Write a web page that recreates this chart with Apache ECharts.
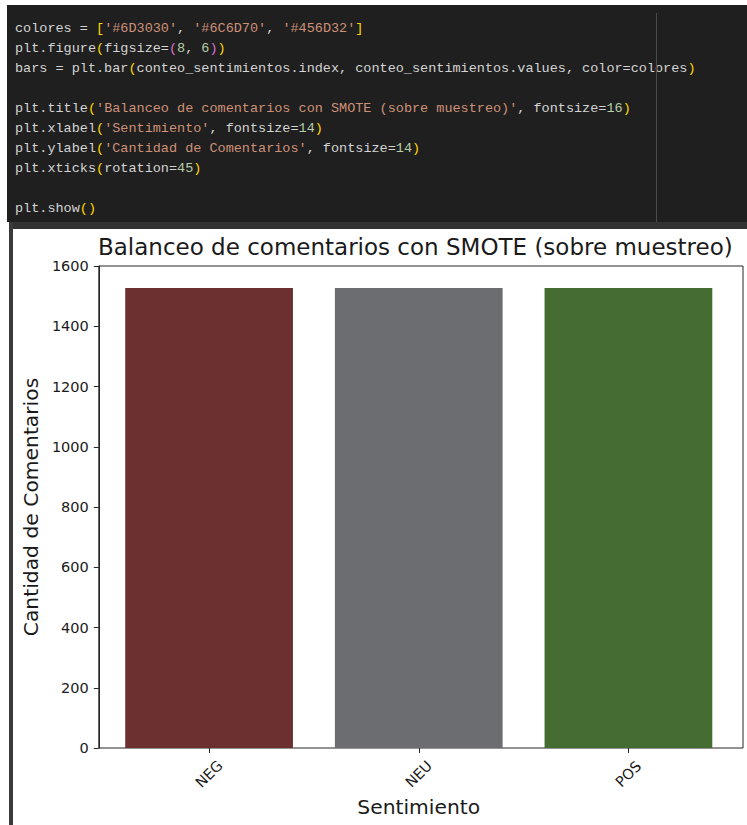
<!DOCTYPE html>
<html>
<head>
<meta charset="utf-8">
<script src="https://cdn.jsdelivr.net/npm/echarts@6/dist/echarts.min.js"></script>
<style>
  html, body { margin: 0; padding: 0; background: #ffffff; width: 747px; height: 825px; overflow: hidden; position: relative; }
  #code { position: absolute; left: 7px; top: 5px; width: 740px; height: 217px; background: #1f1f1f; box-sizing: border-box; padding: 14px 0 0 8px; }
  #code pre { margin: 0; font-family: "Liberation Mono", "DejaVu Sans Mono", monospace; font-size: 13.5px; line-height: 20px; color: #d4d4d4; }
  #vline { position: absolute; left: 656px; top: 13px; width: 1px; height: 209px; background: #4a4a4a; }
  #strip { position: absolute; left: 9px; top: 222px; width: 738px; height: 7px; background: #333333; }
  #lbar { position: absolute; left: 9px; top: 222px; width: 4px; height: 603px; background: #3a3a3a; }
  #chart { position: absolute; left: 13px; top: 229px; width: 734px; height: 596px; background: #ffffff; }
  .y { color: #ffd700; } .p { color: #da70d6; } .s { color: #ce9178; } .n { color: #b5cea8; }
</style>
</head>
<body>
<div id="code"><pre>colores = <span class="y">[</span><span class="s">'#6D3030'</span>, <span class="s">'#6C6D70'</span>, <span class="s">'#456D32'</span><span class="y">]</span>
plt.figure<span class="y">(</span>figsize=<span class="p">(</span><span class="n">8</span>, <span class="n">6</span><span class="p">)</span><span class="y">)</span>
bars = plt.bar<span class="y">(</span>conteo_sentimientos.index, conteo_sentimientos.values, color=colores<span class="y">)</span>

plt.title<span class="y">(</span><span class="s">'Balanceo de comentarios con SMOTE (sobre muestreo)'</span>, fontsize=<span class="n">16</span><span class="y">)</span>
plt.xlabel<span class="y">(</span><span class="s">'Sentimiento'</span>, fontsize=<span class="n">14</span><span class="y">)</span>
plt.ylabel<span class="y">(</span><span class="s">'Cantidad de Comentarios'</span>, fontsize=<span class="n">14</span><span class="y">)</span>
plt.xticks<span class="y">(</span>rotation=<span class="n">45</span><span class="y">)</span>

plt.show<span class="y">()</span></pre></div>
<div id="vline"></div>
<div id="strip"></div>
<div id="lbar"></div>
<div id="chart"></div>
<script>
const categories = ['NEG', 'NEU', 'POS'];
const values = [1527, 1527, 1527];
const colores = ['#6D3030', '#6C6D70', '#456D32'];
const yMin = 0, yMax = 1600, yStep = 200;
const titleText = 'Balanceo de comentarios con SMOTE (sobre muestreo)';
const xName = 'Sentimiento';
const yName = 'Cantidad de Comentarios';

const FONT = 'DejaVu Sans';
const INK = '#1a1a1a';
const chart = echarts.init(document.getElementById('chart'), null, { renderer: 'svg' });
chart.setOption({
  animation: false,
  backgroundColor: '#ffffff',
  title: {
    text: titleText, left: 85, top: 6, padding: 0,
    textStyle: { fontFamily: FONT, fontSize: 23, fontWeight: 'normal', color: INK }
  },
  grid: [
    { left: 84, right: 4, top: 37, bottom: 77, show: true, borderColor: '#262626', borderWidth: 1, backgroundColor: 'transparent', containLabel: false },
    { left: 91.25, right: 13.75, top: 37, bottom: 77, containLabel: false }
  ],
  xAxis: [
    { type: 'value', gridIndex: 0, show: false, min: 0, max: 1 },
    {
      type: 'category', gridIndex: 1, data: categories,
      axisLine: { show: false },
      axisTick: { show: true, alignWithLabel: true, length: 5, lineStyle: { color: '#262626', width: 1 } },
      axisLabel: { rotate: 45, align: 'center', verticalAlign: 'middle', margin: 26, fontFamily: FONT, fontSize: 14.5, color: INK },
      name: xName, nameLocation: 'middle', nameGap: 45,
      nameTextStyle: { fontFamily: FONT, fontSize: 20.3, color: INK }
    }
  ],
  yAxis: [
    {
      type: 'value', gridIndex: 0, min: yMin, max: yMax, interval: yStep,
      axisLine: { show: true, lineStyle: { color: '#262626', width: 1 } },
      axisTick: { show: true, length: 5, lineStyle: { color: '#262626', width: 1 } },
      splitLine: { show: false },
      axisLabel: { margin: 10, fontFamily: FONT, fontSize: 14.5, color: INK, formatter: v => String(v) },
      name: yName, nameLocation: 'middle', nameGap: 52, nameRotate: 90,
      nameTextStyle: { fontFamily: FONT, fontSize: 20.3, color: INK }
    },
    { type: 'value', gridIndex: 1, min: yMin, max: yMax, interval: yStep, show: false, splitLine: { show: false } }
  ],
  series: [{
    type: 'bar', xAxisIndex: 1, yAxisIndex: 1,
    barCategoryGap: '20%',
    data: values.map((v, i) => ({ value: v, itemStyle: { color: colores[i] } }))
  }]
});
</script>
</body>
</html>
